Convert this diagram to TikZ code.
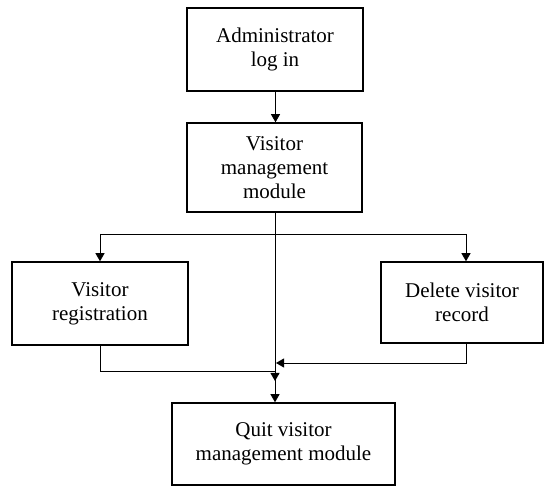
\documentclass[tikz,border=0pt]{standalone}
\usepackage{fontspec}
\setmainfont{Liberation Serif}
\usetikzlibrary{arrows.meta}

\begin{document}
\begin{tikzpicture}[x=1pt,y=-1pt,
  box/.style={draw=black, line width=1.5pt, rectangle, align=center,
    font=\fontsize{21}{24}\selectfont, inner sep=0pt},
  link/.style={draw=black, line width=0.9pt},
  arr/.style={link, -{Triangle[length=8pt,width=9pt]}}]
  \useasboundingbox (0,0) rectangle (544,486);

  % process boxes
  \node[box, minimum width=176pt, minimum height=83pt] (admin) at (275,49.5)
    {\raisebox{5pt}{\parbox{170pt}{\centering Administrator\\log in}}};
  \node[box, minimum width=175pt, minimum height=89pt] (vmm) at (274.5,167.5)
    {\raisebox{3pt}{\parbox{170pt}{\centering Visitor\\management\\module}}};
  \node[box, minimum width=176pt, minimum height=83pt] (reg) at (100,303.5)
    {\raisebox{6pt}{\parbox{170pt}{\centering Visitor\\registration}}};
  \node[box, minimum width=162pt, minimum height=81pt] (del) at (462,302.5)
    {\raisebox{6pt}{\parbox{160pt}{\centering Delete visitor\\record}}};
  \node[box, minimum width=223pt, minimum height=82pt] (quit) at (283.5,444)
    {\raisebox{5pt}{\parbox{220pt}{\centering Quit visitor\\management module}}};

  % junction points
  \coordinate (split) at (275,234);
  \coordinate (regin) at (reg.north |- split);
  \coordinate (delin) at ([xshift=4pt]del.north |- split);
  \coordinate (regjoin) at (275,371);
  \coordinate (regtip) at (275,381);
  \coordinate (deljoin) at (276,363);

  % connectors
  \draw[arr] ([xshift=0.5pt]admin.south) -- ([xshift=0.5pt]admin.south |- vmm.north);
  \draw[arr] ([xshift=0.5pt]vmm.south) -- ([xshift=0.5pt]vmm.south |- quit.north);
  \draw[link] (regin) -- (delin);
  \draw[arr] (regin) -- (reg.north);
  \draw[arr] (delin) -- ([xshift=4pt]del.north);
  \draw[arr] (reg.south) |- (regjoin) -- (regtip);
  \draw[arr] ([xshift=4pt]del.south) |- (deljoin);
\end{tikzpicture}
\end{document}
